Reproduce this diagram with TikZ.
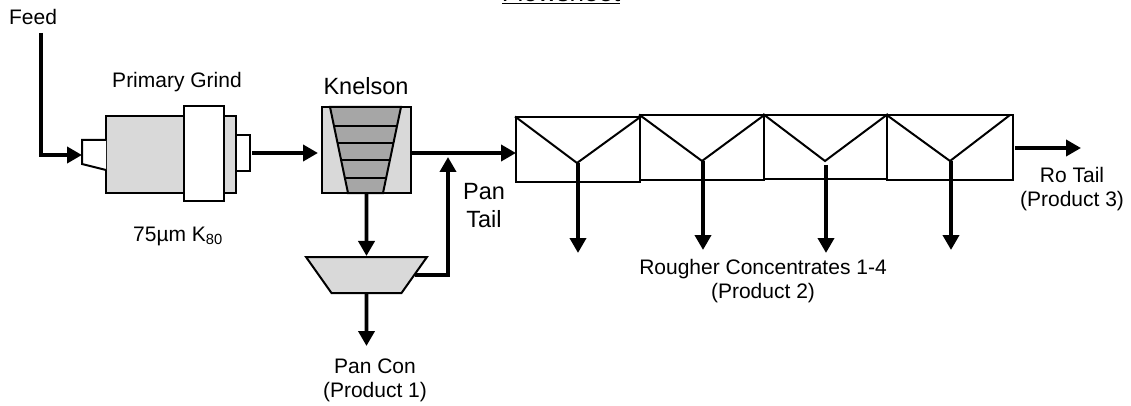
\documentclass[tikz,border=0pt]{standalone}
\usepackage{fontspec}
\setmainfont{Liberation Sans}
\usetikzlibrary{arrows.meta,shapes.geometric}

\begin{document}
\begin{tikzpicture}[
  x=1pt, y=-1pt,
  lbl/.style={inner sep=0pt, align=center, font=\fontsize{21}{24.5}\selectfont},
  biglbl/.style={inner sep=0pt, align=center, font=\fontsize{23.5}{28}\selectfont},
  unit/.style={rectangle, draw=black, line width=2pt, fill=#1, inner sep=0pt},
  cell/.style={rectangle, draw=black, line width=2pt, inner sep=0pt,
               minimum width=#1, minimum height=64pt},
  vee/.style={draw=black, line width=2pt},
  rung/.style={draw=black, line width=2pt},
  flow/.style={-{Triangle[length=15pt, width=16pt]}, draw=black, line width=3.8pt},
]
\useasboundingbox (0,0) rectangle (1131,406);

% ---- title and labels ----
\node[lbl, anchor=base, font=\fontsize{26}{30}\selectfont] (title) at (561,2) {\underline{Flowsheet}};
\node[lbl] (feed) at (33,17) {Feed};
\node[lbl] (grindlbl) at (177,82) {Primary Grind};
\node[lbl] (sizelbl) at (178,236) {75µm K\textsubscript{80}};
\node[biglbl] (knelsonlbl) at (366,86) {Knelson};
\node[biglbl, align=center] (tailbl) at (484,206) {Pan\\Tail};
\node[lbl] (panlbl) at (375,380.5) {Pan Con\\(Product 1)};
\node[lbl] (conclbl) at (763,281) {Rougher Concentrates 1-4\\(Product 2)};
\node[lbl] (rolbl) at (1072,189) {Ro Tail\\(Product 3)};

% ---- primary grind ----
\node[unit=black!15, minimum width=130pt, minimum height=77pt] (mill) at (171,154.5) {};
\node[unit=white, minimum width=40pt, minimum height=95pt] (ring) at (204,153.5) {};
\node[unit=white, minimum width=14pt, minimum height=36pt] (outlet) at (243,153) {};
\coordinate (inlet) at (82,155);
\filldraw[fill=white, draw=black, line width=2pt]
  (106,140) -- (82,140) -- (82,164) -- (106,170);

% ---- knelson ----
\node[unit=black!15, minimum width=89pt, minimum height=86pt] (knelson) at (366.5,150) {};
\filldraw[fill=black!35, draw=black, line width=2pt]
  (330,107) -- (401,107) -- (383,193) -- (348,193) -- cycle;
\foreach \y/\xa/\xb in {126/333/397, 143/338/394, 160/342/391, 178/346/386}
  \draw[rung] (\xa,\y) -- (\xb,\y);

% ---- pan ----
\node[trapezium, trapezium stretches=true, shape border rotate=180,
      trapezium angle=71, draw=black, line width=2pt, fill=black!15, inner sep=0pt,
      minimum width=121pt, minimum height=36pt] (pan) at (366.5,275) {\phantom{x}};
\coordinate (panout) at (366.5,346);
\coordinate (tailjoin) at (448,157);

% ---- rougher cells ----
\node[cell=124pt] (ro1) at (578,149.5) {};
\node[cell=124pt] (ro2) at (702,147.5) {};
\node[cell=123pt] (ro3) at (825.5,147) {};
\node[cell=126pt] (ro4) at (950,147.5) {};
\draw[vee] (ro1.north west) -- (577,163) -- (ro1.north east);
\draw[vee] (ro2.north west) -- (702,161) -- (ro2.north east);
\draw[vee] (ro3.north west) -- (825,161) -- (ro3.north east);
\draw[vee] (ro4.north west) -- (950,161) -- (1010,115);

\coordinate (ro1v) at (578,163);
\coordinate (ro2v) at (703,161);
\coordinate (ro3v) at (826,165);
\coordinate (ro4v) at (951,161);
\coordinate (ro1c) at (578,253);
\coordinate (ro2c) at (703,250);
\coordinate (ro3c) at (826,253);
\coordinate (ro4c) at (951,250);
\coordinate (feedtop) at (41,33);
\coordinate (roa) at (1015,148);
\coordinate (rob) at (1081,148);
\coordinate (outa) at (252,153);
\coordinate (kna) at (318,153);
\coordinate (knb) at (411,153);
\coordinate (roin) at (516,153);

% ---- flows ----
\draw[flow] (feedtop) |- (inlet);
\draw[flow] (outa) -- (kna);
\draw[flow] (knb) -- (roin);
\draw[flow] (knelson.south) -- (pan.north);
\draw[flow] (pan.south) -- (panout);
\draw[flow] (pan.east) -| (tailjoin);
\draw[flow] (ro1v) -- (ro1c);
\draw[flow] (ro2v) -- (ro2c);
\draw[flow] (ro3v) -- (ro3c);
\draw[flow] (ro4v) -- (ro4c);
\draw[flow] (roa) -- (rob);

\end{tikzpicture}
\end{document}
